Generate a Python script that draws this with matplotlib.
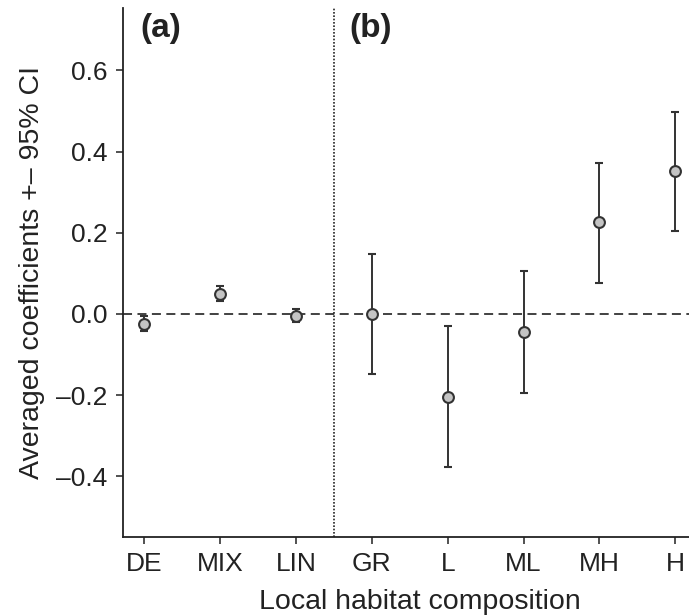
import matplotlib
matplotlib.use("Agg")
import matplotlib.pyplot as plt
import numpy as np

plt.rcParams['font.family'] = ['Liberation Sans', 'DejaVu Sans']

# averaged model coefficients with 95% CI
habitat = ['DE', 'MIX', 'LIN', 'GR', 'L', 'ML', 'MH', 'H']
coef = [-0.024, 0.050, -0.005, 0.000, -0.204, -0.044, 0.226, 0.352]
ci_low = [-0.043, 0.032, -0.020, -0.148, -0.376, -0.194, 0.076, 0.205]
ci_high = [-0.004, 0.069, 0.012, 0.148, -0.030, 0.107, 0.373, 0.497]

yticks = [-0.4, -0.2, 0.0, 0.2, 0.4, 0.6]

farbe = '#333333'
x = np.arange(1, len(habitat) + 1)
coef = np.array(coef)
err = [coef - np.array(ci_low), np.array(ci_high) - coef]

fig = plt.figure(figsize=(6.89, 6.16), dpi=100)
ax = fig.add_axes([0.178, 0.128, 0.822, 0.8585])

ax.axhline(0, color=farbe, lw=1.3, ls=(0, (5, 3)), zorder=1)
ax.axvline(3.5, color='#222222', lw=1.2, ls=(0, (1, 1)), zorder=1)

ax.errorbar(x, coef, yerr=err, fmt='o', color=farbe, ecolor=farbe,
            elinewidth=1.4, capsize=3, capthick=1.4,
            ms=7.8, mfc='#c4c4c4', mec=farbe, mew=1.5, zorder=3)

ax.text(0.95, 0.704, '(a)', fontsize=24, fontweight='bold', color='#222222',
        ha='left', va='center')
ax.text(3.7, 0.704, '(b)', fontsize=24, fontweight='bold', color='#222222',
        ha='left', va='center')

ax.set_xlim(0.715, 8.18)
ax.set_ylim(-0.55, 0.753)
ax.set_xticks(x)
ax.set_xticklabels(habitat)
ax.set_yticks(yticks)
ax.set_yticklabels([f'{v:.1f}'.replace('-', '\u2013') for v in yticks])

for s in ['top', 'right']:
    ax.spines[s].set_visible(False)
for s in ['left', 'bottom']:
    ax.spines[s].set_linewidth(1.3)
    ax.spines[s].set_color('#222222')

ax.tick_params(axis='both', labelsize=19, colors='#222222', length=5,
               width=1.1, pad=6)
ax.set_xlabel('Local habitat composition', fontsize=20.5, color='#222222')
ax.xaxis.set_label_coords(0.525, -0.098)
ax.set_ylabel('Averaged coefficients +\u2013 95% CI', fontsize=20.5, color='#222222',
              labelpad=8)

fig.savefig('out.png', dpi=100)
